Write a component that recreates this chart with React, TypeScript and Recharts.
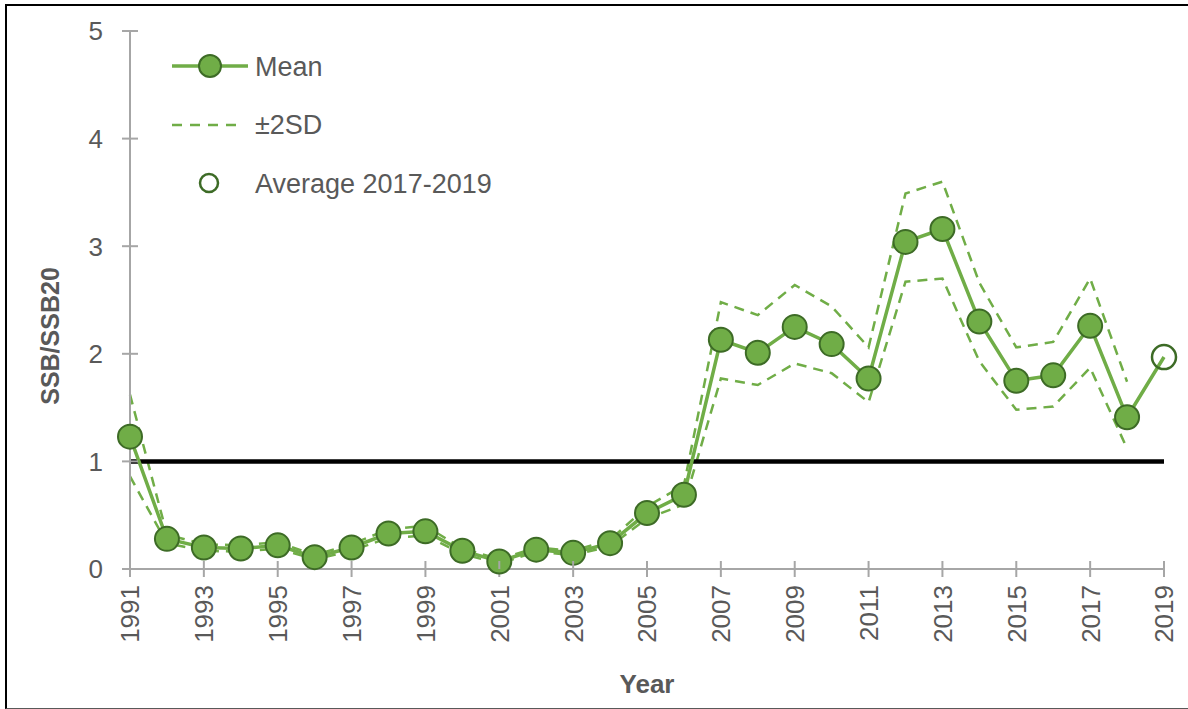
import { LineChart, Line, XAxis, YAxis, ReferenceLine, Legend } from "recharts"

const years = [
  1991, 1992, 1993, 1994, 1995, 1996, 1997, 1998, 1999, 2000,
  2001, 2002, 2003, 2004, 2005, 2006, 2007, 2008, 2009, 2010,
  2011, 2012, 2013, 2014, 2015, 2016, 2017, 2018, 2019,
]

// last value joins the mean line to the 2017-2019 average point
const meanValues = [
  1.23, 0.28, 0.2, 0.19, 0.22, 0.11, 0.2, 0.33, 0.35, 0.17,
  0.07, 0.18, 0.15, 0.24, 0.52, 0.69, 2.13, 2.01, 2.25, 2.09,
  1.77, 3.04, 3.16, 2.3, 1.75, 1.8, 2.26, 1.41, 1.97,
]

const upperValues = [
  1.62, 0.32, 0.23, 0.22, 0.25, 0.13, 0.23, 0.37, 0.4, 0.19,
  0.09, 0.2, 0.17, 0.27, 0.58, 0.78, 2.48, 2.36, 2.64, 2.44,
  2.06, 3.49, 3.6, 2.66, 2.06, 2.11, 2.7, 1.74, null,
]

const lowerValues = [
  0.86, 0.24, 0.17, 0.16, 0.19, 0.09, 0.17, 0.29, 0.31, 0.14,
  0.05, 0.16, 0.13, 0.21, 0.47, 0.6, 1.77, 1.71, 1.91, 1.82,
  1.55, 2.67, 2.7, 1.93, 1.48, 1.51, 1.87, 1.12, null,
]

const averageValues = [
  null, null, null, null, null, null, null, null, null, null,
  null, null, null, null, null, null, null, null, null, null,
  null, null, null, null, null, null, null, null, 1.97,
]

const xTicks = [1991, 1993, 1995, 1997, 1999, 2001, 2003, 2005, 2007, 2009, 2011, 2013, 2015, 2017, 2019]
const yTicks = [0, 1, 2, 3, 4, 5]

const legendItems = ["Mean", "±2SD", "Average 2017-2019"]

const data = years.map((year, i) => ({
  year,
  mean: meanValues[i],
  upper: upperValues[i],
  lower: lowerValues[i],
  average: averageValues[i],
}))

const GREEN = "#70AD47"
const DARK_GREEN = "#3D6B26"
const AXIS = "#A6A6A6"
const TEXT = "#595959"
const FONT = "'Liberation Sans', Arial, sans-serif"

const TICK_SIZE = 8
const Y_TICK_MARGIN = 19
const X_TICK_MARGIN = 8

const YTick = (props: any) => {
  const { x, y, payload } = props
  const axisX = x + TICK_SIZE + Y_TICK_MARGIN
  return (
    <g>
      <line x1={axisX} x2={axisX + TICK_SIZE} y1={y} y2={y} stroke={AXIS} strokeWidth={2} />
      <text x={x} y={y} dy="0.36em" textAnchor="end" fontSize={26} fill={TEXT} fontFamily={FONT}>
        {payload.value}
      </text>
    </g>
  )
}

const XTick = (props: any) => {
  const { x, y, payload } = props
  const axisY = y - TICK_SIZE - X_TICK_MARGIN
  return (
    <g>
      <line x1={x} x2={x} y1={axisY - TICK_SIZE} y2={axisY} stroke={AXIS} strokeWidth={2} />
      <text
        x={0}
        y={0}
        dy="0.36em"
        textAnchor="end"
        fontSize={26}
        fill={TEXT}
        fontFamily={FONT}
        transform={`translate(${x},${y}) rotate(-90)`}
      >
        {payload.value}
      </text>
    </g>
  )
}

const YTitle = (props: any) => {
  const { viewBox } = props
  const cx = viewBox.x - 20
  const cy = viewBox.y + viewBox.height / 2 + 36
  return (
    <text
      x={0}
      y={0}
      dy="0.36em"
      textAnchor="middle"
      fontSize={25}
      fontWeight="bold"
      fill={TEXT}
      fontFamily={FONT}
      transform={`translate(${cx},${cy}) rotate(-90)`}
    >
      SSB/SSB20
    </text>
  )
}

const XTitle = (props: any) => {
  const { viewBox } = props
  return (
    <text
      x={viewBox.x + viewBox.width / 2}
      y={viewBox.y + 124}
      textAnchor="middle"
      fontSize={26}
      fontWeight="bold"
      fill={TEXT}
      fontFamily={FONT}
    >
      Year
    </text>
  )
}

const MeanDot = (props: any) => {
  const { cx, cy, index } = props
  if (cx == null || cy == null || index === years.length - 1) return <g key={index} />
  return <circle key={index} cx={cx} cy={cy} r={12} fill={GREEN} stroke={DARK_GREEN} strokeWidth={2} />
}

const AverageDot = (props: any) => {
  const { cx, cy, index, value } = props
  if (value == null || cx == null || cy == null) return <g key={index} />
  return <circle key={index} cx={cx} cy={cy} r={12} fill="none" stroke={DARK_GREEN} strokeWidth={2.5} />
}

const renderLegend = () => (
  <svg width={380} height={170} style={{ display: "block" }}>
    <line x1={7} x2={83} y1={26} y2={26} stroke={GREEN} strokeWidth={3.5} />
    <circle cx={45} cy={26} r={11} fill={GREEN} stroke={DARK_GREEN} strokeWidth={2} />
    <line x1={7} x2={78} y1={85} y2={85} stroke={GREEN} strokeWidth={2.5} strokeDasharray="10 8" />
    <circle cx={44} cy={143} r={9} fill="none" stroke={DARK_GREEN} strokeWidth={2.5} />
    {legendItems.map((label, i) => (
      <text key={label} x={90} y={26 + i * 58.5} dy="0.36em" fontSize={27} fill={TEXT} fontFamily={FONT}>
        {label}
      </text>
    ))}
  </svg>
)

export default function App() {
  return (
    <div style={{ position: "absolute", left: 0, top: 0, width: 1188, height: 709, background: "#fff", overflow: "hidden" }}>
      <div
        style={{
          position: "absolute",
          left: 5,
          top: 4,
          width: 1200,
          height: 702,
          borderLeft: "2px solid #000",
          borderTop: "2px solid #000",
          borderBottom: "1px solid #595959",
        }}
      />
      <div style={{ position: "absolute", left: 0, top: 0 }}>
        <LineChart width={1188} height={709} data={data} margin={{ top: 31, right: 24, bottom: 50, left: 70 }}>
          <XAxis
            dataKey="year"
            type="number"
            domain={[1991, 2019]}
            ticks={xTicks}
            interval={0}
            height={90}
            stroke={AXIS}
            strokeWidth={2}
            tickSize={TICK_SIZE}
            tickMargin={X_TICK_MARGIN}
            tickLine={{ stroke: AXIS, strokeWidth: 2 }}
            tick={<XTick />}
            label={<XTitle />}
          />
          <YAxis
            type="number"
            domain={[0, 5]}
            ticks={yTicks}
            interval={0}
            width={60}
            stroke={AXIS}
            strokeWidth={2}
            tickSize={TICK_SIZE}
            tickMargin={Y_TICK_MARGIN}
            tickLine={{ stroke: AXIS, strokeWidth: 2 }}
            tick={<YTick />}
            label={<YTitle />}
          />
          <Legend
            content={renderLegend}
            layout="vertical"
            align="center"
            verticalAlign="middle"
            wrapperStyle={{ top: 40, left: 165, width: 380, height: 170 }}
          />
          <Line
            dataKey="upper"
            stroke={GREEN}
            strokeWidth={2.5}
            strokeDasharray="10 7"
            dot={false}
            activeDot={false}
            isAnimationActive={false}
            legendType="none"
          />
          <Line
            dataKey="lower"
            stroke={GREEN}
            strokeWidth={2.5}
            strokeDasharray="10 7"
            dot={false}
            activeDot={false}
            isAnimationActive={false}
            legendType="none"
          />
          <ReferenceLine y={1} stroke="#000" strokeWidth={4.5} />
          <Line
            dataKey="mean"
            stroke={GREEN}
            strokeWidth={3.5}
            dot={<MeanDot />}
            activeDot={false}
            isAnimationActive={false}
          />
          <Line
            dataKey="average"
            stroke="none"
            dot={<AverageDot />}
            activeDot={false}
            isAnimationActive={false}
          />
        </LineChart>
      </div>
    </div>
  )
}
